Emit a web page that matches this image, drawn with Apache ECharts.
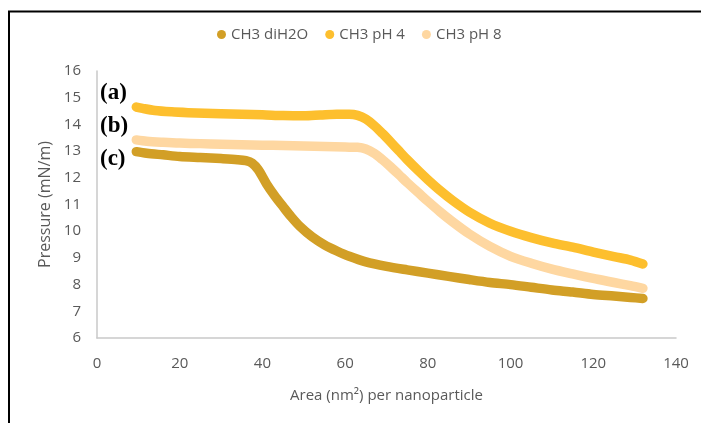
<!DOCTYPE html>
<html>
<head>
<meta charset="utf-8">
<style>html,body{margin:0;padding:0;background:#fff;}#c{width:701px;height:423px;}</style>
<script src="https://cdn.jsdelivr.net/npm/echarts@6/dist/echarts.min.js"></script>
</head>
<body>
<div id="c"></div>
<script>
var seriesNames = ['CH3 diH2O', 'CH3 pH 4', 'CH3 pH 8'];
var seriesColors = ['#D29F26', '#FDBF2E', '#FED7A1'];
var xTicks = [0, 20, 40, 60, 80, 100, 120, 140];
var yTicks = [6, 7, 8, 9, 10, 11, 12, 13, 14, 15, 16];
var annotations = ['(a)', '(b)', '(c)'];

var diH2O = [[9.5,12.98],[12,12.92],[16,12.86],[20,12.8],[25,12.76],[30,12.72],[34,12.68],[36,12.64],[37.5,12.55],[39,12.3],[41,11.77],[43,11.32],[45,10.92],[47,10.53],[49,10.19],[52,9.79],[55,9.49],[58,9.26],[61,9.06],[65,8.85],[70,8.68],[75,8.55],[80,8.43],[85,8.31],[90,8.19],[95,8.08],[100,8.0],[105,7.9],[110,7.8],[115,7.72],[120,7.63],[125,7.57],[129,7.52],[132,7.48]];
var pH4 = [[9.5,14.65],[11,14.6],[14,14.52],[18,14.47],[22,14.44],[26,14.42],[30,14.4],[35,14.38],[40,14.36],[45,14.33],[50,14.32],[54,14.35],[58,14.38],[61,14.38],[63,14.34],[65,14.2],[67,13.96],[69,13.66],[71,13.34],[73,13.01],[75,12.68],[78,12.22],[80,11.93],[83,11.52],[86,11.15],[90,10.72],[95,10.3],[100,10.0],[105,9.76],[110,9.56],[115,9.4],[120,9.22],[125,9.05],[129,8.92],[132,8.77]];
var pH8 = [[9.5,13.42],[12,13.37],[16,13.33],[20,13.3],[25,13.28],[30,13.26],[35,13.24],[40,13.22],[45,13.21],[50,13.19],[55,13.17],[60,13.15],[63,13.14],[65,13.08],[67,12.92],[69,12.68],[71,12.41],[73,12.12],[75,11.82],[78,11.4],[80,11.12],[83,10.72],[86,10.35],[90,9.9],[95,9.43],[100,9.06],[105,8.8],[110,8.58],[115,8.4],[120,8.23],[125,8.08],[129,7.96],[132,7.86]];
var seriesData = [diH2O, pH4, pH8];

var chart = echarts.init(document.getElementById('c'), null, {renderer: 'canvas'});
var font = "'Open Sans', 'Noto Sans', sans-serif";
var option = {
  animation: false,
  backgroundColor: '#ffffff',
  legend: {
    left: 212, top: 22,
    icon: 'circle',
    itemWidth: 9, itemHeight: 9,
    itemGap: 17,
    textStyle: {color: '#595959', fontSize: 15, fontFamily: font},
    data: seriesNames
  },
  grid: {left: 97, right: 25, top: 71, bottom: 85, containLabel: false},
  xAxis: {
    type: 'value', min: xTicks[0], max: xTicks[xTicks.length - 1], interval: 20,
    name: 'Area (nm²) per nanoparticle', nameLocation: 'middle', nameGap: 50,
    nameTextStyle: {color: '#595959', fontSize: 15, fontFamily: font},
    axisLine: {show: true, lineStyle: {color: '#C9C9C9', width: 1.5}},
    axisTick: {show: false},
    splitLine: {show: false},
    axisLabel: {color: '#595959', fontSize: 15, fontFamily: font, margin: 18}
  },
  yAxis: {
    type: 'value', min: yTicks[0], max: yTicks[yTicks.length - 1], interval: 1,
    name: 'Pressure (mN/m)', nameLocation: 'middle', nameGap: 44, nameRotate: 90,
    nameTextStyle: {color: '#595959', fontSize: 16, fontFamily: font},
    axisLine: {show: true, lineStyle: {color: '#C9C9C9', width: 1.5}},
    axisTick: {show: false},
    splitLine: {show: false},
    axisLabel: {color: '#595959', fontSize: 15, fontFamily: font, margin: 16}
  },
  series: seriesNames.map(function (n, i) {
    return {
      name: n, type: 'line', data: seriesData[i],
      showSymbol: false, smooth: 0.3,
      color: seriesColors[i],
      lineStyle: {width: 9.5, color: seriesColors[i], cap: 'round', join: 'round'},
      itemStyle: {color: seriesColors[i]}
    };
  }),
  graphic: [
    {type: 'line', shape: {x1: 8, y1: 11.5, x2: 701, y2: 11.5}, style: {stroke: '#000', lineWidth: 2}},
    {type: 'line', shape: {x1: 9, y1: 11, x2: 9, y2: 423}, style: {stroke: '#000', lineWidth: 2}},
    {type: 'text', left: 100, top: 82, style: {text: annotations[0], font: "bold 23px 'Liberation Serif', 'DejaVu Serif', serif", fill: '#000'}},
    {type: 'text', left: 100, top: 115, style: {text: annotations[1], font: "bold 23px 'Liberation Serif', 'DejaVu Serif', serif", fill: '#000'}},
    {type: 'text', left: 100, top: 148, style: {text: annotations[2], font: "bold 23px 'Liberation Serif', 'DejaVu Serif', serif", fill: '#000'}}
  ]
};
chart.setOption(option);
</script>
</body>
</html>
